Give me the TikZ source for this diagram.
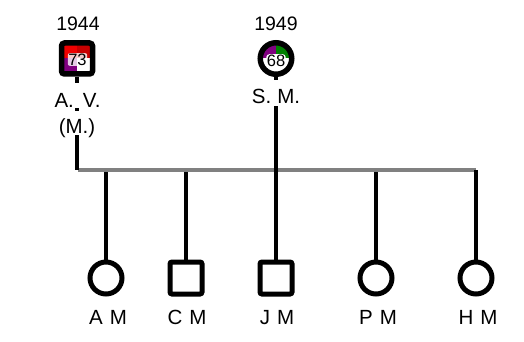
\documentclass[tikz,border=0pt]{standalone}
\usepackage{fontspec}
\setmainfont{Liberation Sans}
\definecolor{qred}{RGB}{240,0,0}
\definecolor{qdred}{RGB}{200,0,0}
\definecolor{qpurple}{RGB}{128,0,128}
\definecolor{qgreen}{RGB}{0,128,0}
\definecolor{bargray}{RGB}{128,128,128}
\newcommand{\gap}[1]{\hspace{#1pt}}
\begin{document}
\begin{tikzpicture}[x=1pt,y=-1pt,
  big/.style={font=\fontsize{20.5}{22}\selectfont, inner sep=0pt, anchor=base},
  year/.style={font=\fontsize{19.5}{22}\selectfont, inner sep=0pt, anchor=base},
  small/.style={font=\fontsize{16.5}{18}\selectfont, inner sep=0.5pt},
  cover/.style={big, fill=white},
  male/.style={rectangle, draw=black, line width=5pt, minimum size=32pt, rounded corners=2pt},
  female/.style={circle, draw=black, line width=5pt, minimum size=32pt},
  pmale/.style={rectangle, draw=black, line width=5.5pt, minimum size=31pt, rounded corners=3pt},
  pfemale/.style={circle, draw=black, line width=5.5pt, minimum size=31.5pt},
  kin/.style={draw=black, line width=4.5pt},
  marriage/.style={draw=bargray, line width=4.5pt}]
\useasboundingbox (0,0) rectangle (524,342);

% parent A.V. quadrant fill
\fill[qred] (63.5,45.5) rectangle (77,58.5);
\fill[qdred] (77,45.5) rectangle (90.5,58.5);
\fill[qpurple] (63.5,58.5) rectangle (77,71.5);
\fill[white] (77,58.5) rectangle (90.5,71.5);
\node[pmale] (av) at (77,58.5) {};
\node[small, fill=white, fill opacity=0.8, text opacity=1, rounded corners=2pt] (avage) at (77.5,59.5) {73};

% parent S.M. quadrant fill
\begin{scope}
  \clip (276,58.5) circle[radius=16pt];
  \fill[qpurple] (258,40) rectangle (276,58.5);
  \fill[qgreen] (276,40) rectangle (294,58.5);
\end{scope}
\node[pfemale] (sm) at (276,58.5) {};
\node[small, fill=white, rounded corners=3pt] (smage) at (276,60.5) {68};

% children
\node[female] (am) at (106,278) {};
\node[male]   (cm) at (186,278) {};
\node[male]   (jm) at (276,278) {};
\node[female] (pm) at (376,278) {};
\node[female] (hm) at (476,278) {};

% marriage bar
\coordinate (bl) at (78,170);
\coordinate (br) at (476,170);
\coordinate (bb) at (276,172);

% lines from bar to children
\foreach \c in {am,cm,jm,pm,hm}
  \draw[kin] (\c.north) -- (\c.north |- bb);
\draw[marriage] (bl) -- (br);
\draw[kin] (hm.north) -- (br);
% lines from parents
\draw[kin] (av.south) -- (av.south |- br);
\draw[kin] (sm.south) -- (sm.south |- bb);

% labels
\node[year] (y1) at (78,31) {1944};
\node[year] (y2) at (276,31) {1949};
\node[cover, text height=25pt, text depth=0pt] (avl) at (77.5,108) {A.\gap{9}V.};
\node[cover, text height=22pt, text depth=2pt] (avm) at (77,133) {(M.)};
\node[cover, text height=23pt, text depth=3pt] (sml) at (276,103) {S.\gap{6}M.};

\node[big] (lam) at (108,324) {A\gap{7}M};
\node[big] (lcm) at (187,324) {C\gap{7}M};
\node[big] (ljm) at (277,324) {J\gap{7}M};
\node[big] (lpm) at (378,324) {P\gap{7}M};
\node[big] (lhm) at (478,324) {H\gap{7}M};
\end{tikzpicture}
\end{document}
